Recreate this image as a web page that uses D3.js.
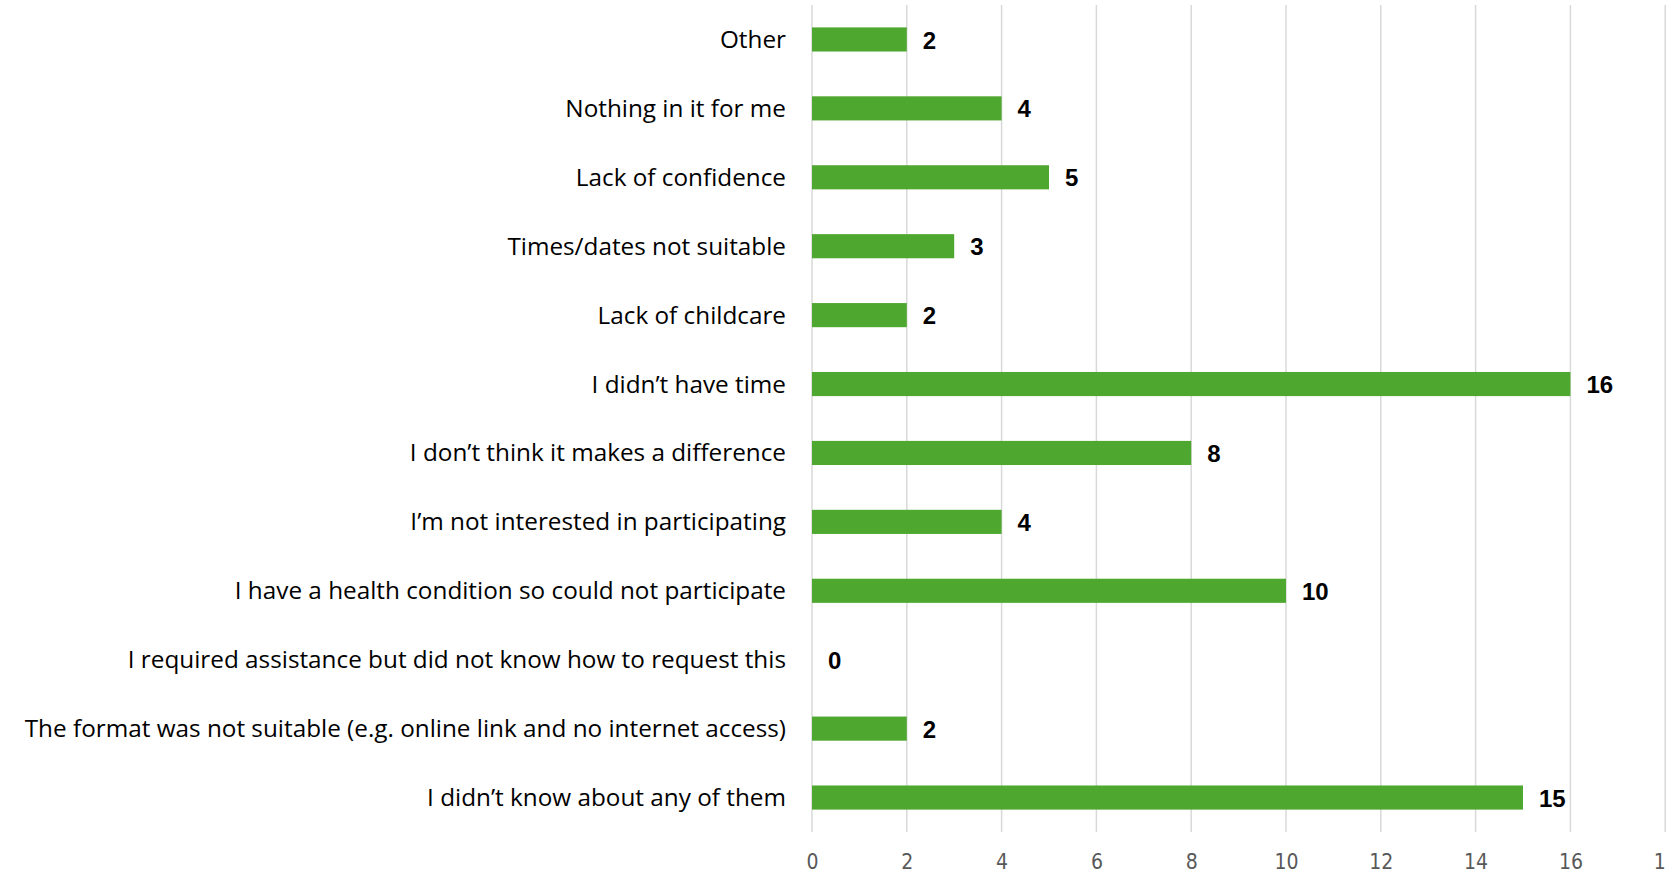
<!DOCTYPE html>
<html>
<head>
<meta charset="utf-8">
<script src="https://cdn.jsdelivr.net/npm/d3@7"></script>
<style>
  html, body { margin: 0; padding: 0; background: #fff; overflow: hidden; }
  svg { display: block; }
</style>
</head>
<body>
<svg id="chart"></svg>
<script>
// categories, top to bottom
const categories = [
    "Other",
    "Nothing in it for me",
    "Lack of confidence",
    "Times/dates not suitable",
    "Lack of childcare",
    "I didn\u2019t have time",
    "I don\u2019t think it makes a difference",
    "I\u2019m not interested in participating",
    "I have a health condition so could not participate",
    "I required assistance but did not know how to request this",
    "The format was not suitable (e.g. online link and no internet access)",
    "I didn\u2019t know about any of them"
]
const counts = [2, 4, 5, 3, 2, 16, 8, 4, 10, 0, 2, 15]
const tickValues = [0, 2, 4, 6, 8, 10, 12, 14, 16, 18]

let width = 1666
let height = 873
let margin = { top: 5, left: 812, right: 0.8, bottom: 41 }

let svg = d3.select("#chart")
    .attr("width", width)
    .attr("height", height)

// x scale: 0..18 across the plot
let x = d3.scaleLinear()
    .domain([0, 18])
    .range([margin.left, width - margin.right])

let y = d3.scaleBand()
    .domain(categories)
    .range([margin.top, height - margin.bottom])
    .paddingInner(0.65)
    .paddingOuter(0.325)

// vertical gridlines (also the zero line)
svg.append("g")
    .selectAll("line")
    .data(tickValues)
    .enter()
    .append("line")
    .attr("x1", d => x(d))
    .attr("x2", d => x(d))
    .attr("y1", margin.top)
    .attr("y2", height - margin.bottom)
    .attr("stroke", "#d9d9d9")
    .attr("stroke-width", 1.5)

// bottom tick labels
let xAxis = d3.axisBottom(x)
    .tickValues(tickValues)
    .tickSize(0)
    .tickPadding(0)
    .tickFormat(d3.format("d"))

let gx = svg.append("g")
    .attr("transform", "translate(0," + (height - margin.bottom) + ")")
    .call(xAxis)
gx.select(".domain").remove()
gx.selectAll("text")
    .attr("y", 30)
    .attr("dy", "0.35em")
    .style("font-family", "'Liberation Sans Narrow', 'DejaVu Sans Condensed', sans-serif")
    .style("font-size", "21px")
    .attr("fill", "#595959")

// bars
svg.append("g")
    .selectAll("rect")
    .data(categories)
    .enter()
    .append("rect")
    .attr("x", x(0))
    .attr("y", d => y(d))
    .attr("width", (d, i) => x(counts[i]) - x(0))
    .attr("height", y.bandwidth())
    .attr("fill", "#4ea72e")

// value labels
svg.append("g")
    .selectAll("text")
    .data(categories)
    .enter()
    .append("text")
    .attr("x", (d, i) => x(counts[i]) + 16)
    .attr("y", d => y(d) + y.bandwidth() / 2)
    .attr("dy", "0.38em")
    .text((d, i) => counts[i])
    .style("font-family", "'Liberation Sans', Arial, sans-serif")
    .style("font-size", "24px")
    .style("font-weight", "bold")
    .attr("fill", "#000")

// category labels
svg.append("g")
    .selectAll("text")
    .data(categories)
    .enter()
    .append("text")
    .attr("x", margin.left - 26)
    .attr("y", d => y(d) + y.bandwidth() / 2)
    .attr("dy", "0.35em")
    .attr("text-anchor", "end")
    .text(d => d)
    .style("font-family", "'Open Sans', sans-serif")
    .style("font-size", "24.3px")
    .attr("fill", "#000")
</script>
</body>
</html>
